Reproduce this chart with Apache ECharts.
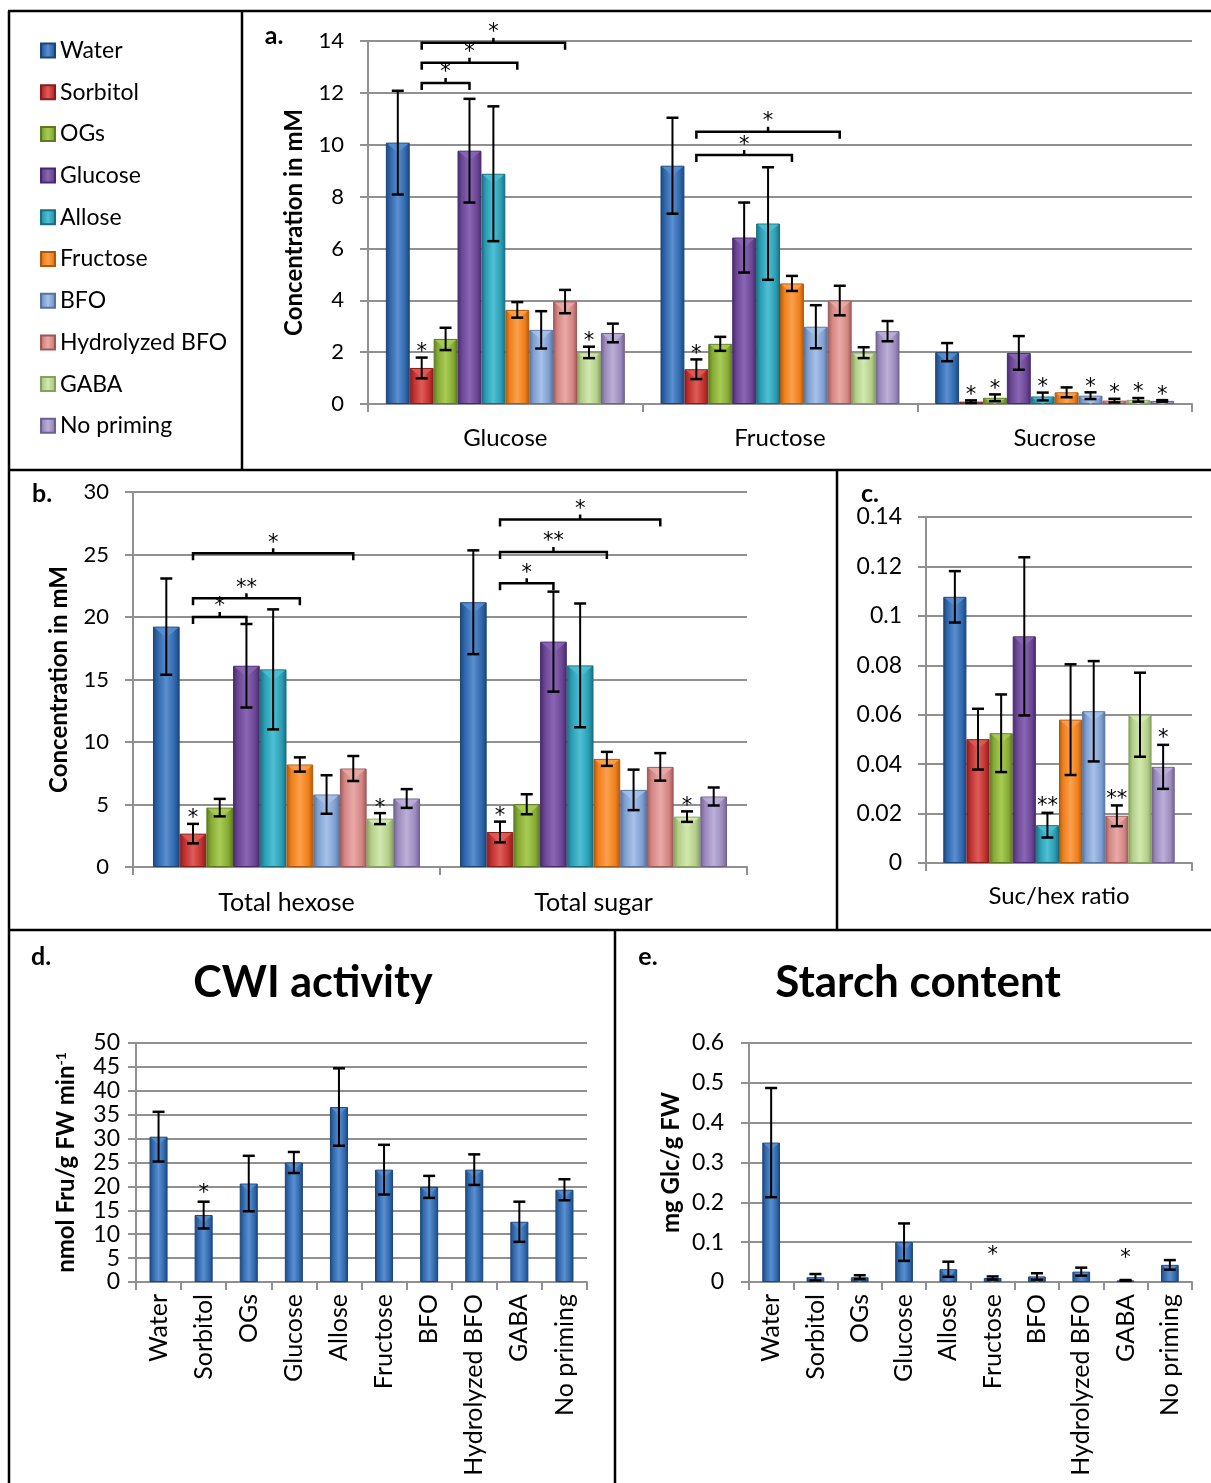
<!DOCTYPE html>
<html><head><meta charset="utf-8">
<script src="https://cdn.jsdelivr.net/npm/echarts@6/dist/echarts.min.js"></script>
<style>html,body{margin:0;padding:0;background:#fff}#c{width:1211px;height:1483px}</style>
</head><body><div id="c"></div>
<script>
// ---------- DATA ----------
const treatments = ['Water','Sorbitol','OGs','Glucose','Allose','Fructose','BFO','Hydrolyzed BFO','GABA','No priming'];

const catsA = ['Glucose','Fructose','Sucrose'];
const aGlucoseMean  = [10.08,1.39,2.51,9.77,8.88,3.63,2.86,3.95,1.99,2.74];
const aGlucoseErr   = [2.0,0.4,0.43,2.0,2.6,0.3,0.72,0.45,0.22,0.36];
const aGlucoseSig   = ['','*','','','','','','','*',''];
const aFructoseMean = [9.19,1.34,2.32,6.42,6.96,4.65,2.98,3.99,1.98,2.81];
const aFructoseErr  = [1.85,0.38,0.27,1.35,2.17,0.29,0.83,0.57,0.21,0.39];
const aFructoseSig  = ['','*','','','','','','','',''];
const aSucroseMean  = [2.0,0.09,0.24,1.97,0.29,0.45,0.32,0.13,0.16,0.12];
const aSucroseErr   = [0.35,0.05,0.13,0.65,0.15,0.19,0.13,0.07,0.07,0.03];
const aSucroseSig   = ['','*','*','','*','','*','*','*','*'];
// [category, from treatment, to treatment, y value, label]
const aBrackets = [[0,1,3,12.38,'*'],[0,1,5,13.16,'*'],[0,1,7,13.93,'*'],[1,1,5,9.6,'*'],[1,1,7,10.5,'*']];

const catsB = ['Total hexose','Total sugar'];
const bHexoseMean = [19.23,2.67,4.75,16.1,15.81,8.2,5.8,7.88,3.87,5.48];
const bHexoseErr  = [3.85,0.78,0.7,3.34,4.8,0.57,1.54,1.0,0.44,0.75];
const bHexoseSig  = ['','*','','','','','','','*',''];
const bSugarMean  = [21.18,2.8,5.02,18.03,16.13,8.65,6.17,8.01,4.03,5.64];
const bSugarErr   = [4.15,0.83,0.8,4.0,4.95,0.56,1.62,1.1,0.42,0.72];
const bSugarSig   = ['','*','','','','','','','*',''];
const bBrackets = [[0,1,3,20.0,'*'],[0,1,5,21.5,'**'],[0,1,7,25.1,'*'],[1,1,3,22.7,'*'],[1,1,5,25.2,'**'],[1,1,7,27.8,'*']];

const catsC = ['Suc/hex ratio'];
const cRatioMean = [0.1077,0.0501,0.0525,0.0917,0.0153,0.058,0.0614,0.0191,0.06,0.0389];
const cRatioErr  = [0.0104,0.0123,0.0157,0.032,0.005,0.0224,0.0203,0.0042,0.017,0.0089];
const cRatioSig  = ['','','','','**','','','**','','*'];

const dCwiMean = [30.4,14.0,20.6,25.0,36.6,23.5,19.9,23.5,12.6,19.3];
const dCwiErr  = [5.2,2.8,5.8,2.2,8.1,5.2,2.3,3.2,4.2,2.2];
const dCwiSig  = ['','*','','','','','','','',''];

const eStarchMean = [0.35,0.012,0.012,0.1,0.032,0.01,0.014,0.026,0.004,0.043];
const eStarchErr  = [0.137,0.008,0.005,0.047,0.019,0.004,0.008,0.01,0.001,0.012];
const eStarchSig  = ['','','','','','*','','','*',''];

// ---------- STYLE ----------
const F = "Lato, 'Open Sans', sans-serif";
const STAR = "21px 'DejaVu Sans', sans-serif";
const base  = ['#2f67ab','#c0302e','#86ab35','#6a4694','#2b9db3','#ef7f1a','#7f9fd0','#d38684','#b3cf88','#9c8bbd'];
const light = ['#5a8fd0','#de5d58','#a9cc55','#8a66b6','#4fc0d4','#fba04e','#a6c2ea','#eaa9a6','#d3e8b0','#bcafd8'];
const dark  = ['#1b4578','#861d1c','#5c7a20','#47296c','#1a6d7e','#b0580a','#56729f','#9c5956','#86a05f','#6f618f'];
const GAP = 0.13, N = treatments.length;
const GRID_C = '#909090';

function grad(i){
  return new echarts.graphic.LinearGradient(0,0,1,0,[
    {offset:0,color:dark[i]},{offset:0.18,color:base[i]},{offset:0.5,color:light[i]},
    {offset:0.82,color:base[i]},{offset:1,color:dark[i]}]);
}

function valAxis(gi, max, interval, fs, margin, name, nameGap, fmt){
  return {type:'value', gridIndex:gi, min:0, max, interval,
    axisLine:{show:true, lineStyle:{color:GRID_C,width:2}},
    axisTick:{show:true, inside:false, length:8, lineStyle:{color:GRID_C,width:2}},
    splitLine:{show:true, lineStyle:{color:GRID_C,width:2}},
    axisLabel:{fontSize:fs, fontFamily:F, color:'#000', margin, formatter: fmt},
    name, nameLocation:'middle', nameGap, nameRotate:90,
    nameTextStyle:{fontSize:24, fontWeight:'bold', fontFamily:F, color:'#000'}};
}
function catAxis(gi, data, rotate, margin, fs){
  return {type:'category', gridIndex:gi, data,
    axisLine:{show:true, lineStyle:{color:GRID_C,width:2}},
    axisTick:{show:true, alignWithLabel:false, length:8, lineStyle:{color:GRID_C,width:2}},
    axisLabel:{fontSize:fs, fontFamily:F, color:'#000', margin, rotate, interval:0}};
}
const decFmt = v => v === 0 ? '0' : String(+v.toFixed(2));

function barsFor(gi, perCat){
  return treatments.map((t,i)=>({
    type:'bar', name:t, xAxisIndex:gi, yAxisIndex:gi,
    barCategoryGap:(GAP*100)+'%', barGap:'0%',
    data: perCat.map(arr=>arr[i]),
    itemStyle:{color:grad(i), borderColor:dark[i], borderWidth:1},
    emphasis:{disabled:true}, z:2
  }));
}

function errGroup(x, bw, yTop, yHi, yLo, y0, lightCol, sig, starLift){
  const ch = [];
  const h = Math.min(bw*0.38, Math.max(0, y0 - yTop - 1));
  if (h > 1) ch.push({type:'polygon', shape:{points:[[x-bw/2+1.5,yTop+1],[x+bw/2-1.5,yTop+1],[x,yTop+1+h]]},
    style:{fill:lightCol, opacity:0.85}});
  ch.push({type:'line', shape:{x1:x,y1:yHi,x2:x,y2:yLo}, style:{stroke:'#000',lineWidth:2}});
  ch.push({type:'line', shape:{x1:x-6,y1:yHi,x2:x+6,y2:yHi}, style:{stroke:'#000',lineWidth:2.5}});
  ch.push({type:'line', shape:{x1:x-6,y1:yLo,x2:x+6,y2:yLo}, style:{stroke:'#000',lineWidth:2.5}});
  if (sig) ch.push({type:'text', x:x, y:yHi - starLift,
    style:{text:sig, font:STAR, fill:'#000', align:'center', verticalAlign:'middle'}});
  return {type:'group', children:ch};
}

function groupedOverlay(gi, means, errs, sigs, starLift){
  const items = [];
  means.forEach((arr,c)=>arr.forEach((m,s)=>items.push({c,s,m,e:errs[c][s],sig:sigs[c][s]})));
  return {type:'custom', xAxisIndex:gi, yAxisIndex:gi, z:5, silent:true, clip:false,
    data: items.map(it=>[it.c, it.m]), encode:{x:0,y:1},
    renderItem(params, api){
      const it = items[params.dataIndex];
      const p0 = api.coord([it.c, 0]);
      const band = api.size([1,0])[0];
      const group = band*(1-GAP), bw = group/N;
      const x = p0[0] - group/2 + bw*(it.s+0.5);
      const yTop = api.coord([it.c, it.m])[1];
      const yHi = api.coord([it.c, it.m+it.e])[1];
      const yLo = api.coord([it.c, Math.max(0, it.m-it.e)])[1];
      return errGroup(x, bw, yTop, yHi, yLo, p0[1], light[it.s], it.sig, starLift);
    }};
}

function bracketOverlay(gi, brackets){
  return {type:'custom', xAxisIndex:gi, yAxisIndex:gi, z:6, silent:true, clip:false,
    data: brackets.map(b=>[b[0], b[3]]), encode:{x:0,y:1},
    renderItem(params, api){
      const b = brackets[params.dataIndex];
      const p = api.coord([b[0], b[3]]);
      const band = api.size([1,0])[0];
      const group = band*(1-GAP), bw = group/N;
      const x1 = p[0]-group/2 + bw*(b[1]+0.5), x2 = p[0]-group/2 + bw*(b[2]+0.5);
      const y = p[1], xm = (x1+x2)/2;
      return {type:'group', children:[
        {type:'polyline', shape:{points:[[x1,y+7],[x1,y],[x2,y],[x2,y+7]]}, style:{stroke:'#000',lineWidth:2.5,fill:null}},
        {type:'line', shape:{x1:xm,y1:y,x2:xm,y2:y-5}, style:{stroke:'#000',lineWidth:2.5}},
        {type:'text', x:xm, y:y-10, style:{text:b[4], font:STAR, fill:'#000', align:'center', verticalAlign:'middle'}}
      ]};
    }};
}

function singleOverlay(gi, means, errs, sigs, starLift){
  return {type:'custom', xAxisIndex:gi, yAxisIndex:gi, z:5, silent:true, clip:false,
    data: means.map((m,i)=>[i,m]), encode:{x:0,y:1},
    renderItem(params, api){
      const i = params.dataIndex, m = means[i], e = errs[i];
      const p0 = api.coord([i,0]);
      const bw = api.size([1,0])[0]*0.4;
      const yTop = api.coord([i,m])[1];
      const yHi = api.coord([i,m+e])[1];
      const yLo = api.coord([i,Math.max(0,m-e)])[1];
      return errGroup(p0[0], bw, yTop, yHi, yLo, p0[1], light[0], sigs[i], starLift);
    }};
}

const singleBar = (gi, means) => ({type:'bar', name:'single'+gi, xAxisIndex:gi, yAxisIndex:gi, barWidth:'40%',
  data: means, itemStyle:{color:grad(0), borderColor:dark[0], borderWidth:1}, emphasis:{disabled:true}, z:2});

const grids = [
  {left:368, top:41, width:824, height:363},
  {left:133, top:492, width:614, height:375},
  {left:926, top:517, width:266, height:346},
  {left:136, top:1043, width:451, height:239},
  {left:749, top:1043, width:443, height:239}
].map(g=>Object.assign(g,{containLabel:false, outerBoundsMode:'none'}));

const dName = '{a|nmol Fru/g FW min}{s|-1}';

const txt = (x,y,t,font) => ({type:'text', x, y, style:{text:t, font, fill:'#000', align:'center', verticalAlign:'middle'}, silent:true});
const ln = (x1,y1,x2,y2) => ({type:'line', shape:{x1,y1,x2,y2}, style:{stroke:'#000', lineWidth:2.5}, silent:true});

const option = {
  animation:false,
  backgroundColor:'#fff',
  grid: grids,
  legend:{orient:'vertical', left:40, top:39, padding:0, itemWidth:14, itemHeight:14, itemGap:18.7, icon:'rect',
    selectedMode:false, data:treatments,
    textStyle:{fontSize:23, fontFamily:F, color:'#000', lineHeight:22}},
  xAxis:[
    catAxis(0, catsA, 0, 22, 24),
    catAxis(1, catsB, 0, 23, 25),
    catAxis(2, catsC, 0, 21, 24),
    catAxis(3, treatments, 90, 12, 25),
    catAxis(4, treatments, 90, 12, 25)
  ],
  yAxis:[
    valAxis(0, 14, 2, 22, 24, 'Concentration in mM', 62),
    valAxis(1, 30, 5, 22, 24, 'Concentration in mM', 62),
    valAxis(2, 0.14, 0.02, 23, 24, '', 0, decFmt),
    Object.assign(valAxis(3, 50, 5, 23, 16, dName, 58), {nameTextStyle:{fontFamily:F, color:'#000',
      rich:{a:{fontSize:24,fontWeight:'bold',fontFamily:F,color:'#000'},
            s:{fontSize:14,fontWeight:'bold',fontFamily:F,color:'#000',verticalAlign:'top',padding:[0,0,10,0]}}}}),
    valAxis(4, 0.6, 0.1, 23, 25, 'mg Glc/g FW', 66, decFmt)
  ],
  series:[
    ...barsFor(0, [aGlucoseMean, aFructoseMean, aSucroseMean]),
    groupedOverlay(0, [aGlucoseMean, aFructoseMean, aSucroseMean], [aGlucoseErr, aFructoseErr, aSucroseErr], [aGlucoseSig, aFructoseSig, aSucroseSig], 5),
    bracketOverlay(0, aBrackets),
    ...barsFor(1, [bHexoseMean, bSugarMean]),
    groupedOverlay(1, [bHexoseMean, bSugarMean], [bHexoseErr, bSugarErr], [bHexoseSig, bSugarSig], 5),
    bracketOverlay(1, bBrackets),
    ...barsFor(2, [cRatioMean]),
    groupedOverlay(2, [cRatioMean], [cRatioErr], [cRatioSig], 6),
    singleBar(3, dCwiMean),
    singleOverlay(3, dCwiMean, dCwiErr, dCwiSig, 8),
    singleBar(4, eStarchMean),
    singleOverlay(4, eStarchMean, eStarchErr, eStarchSig, 21)
  ],
  graphic:[
    ln(8,11,1211,11), ln(9,11,9,1483), ln(242,11,242,470), ln(8,470,1211,470),
    ln(837,470,837,930), ln(8,930,1211,930), ln(615,930,615,1483),
    txt(274,36,'a.','bold 25px '+F), txt(42,494,'b.','bold 25px '+F), txt(870,494,'c.','bold 25px '+F),
    txt(41,957,'d.','bold 25px '+F), txt(648,957,'e.','bold 25px '+F),
    txt(313,983,'CWI activity','bold 43px '+F), txt(918,983,'Starch content','bold 44px '+F)
  ]
};
const chart = echarts.init(document.getElementById('c'), null, {renderer:'canvas'});
chart.setOption(option);
</script></body></html>
